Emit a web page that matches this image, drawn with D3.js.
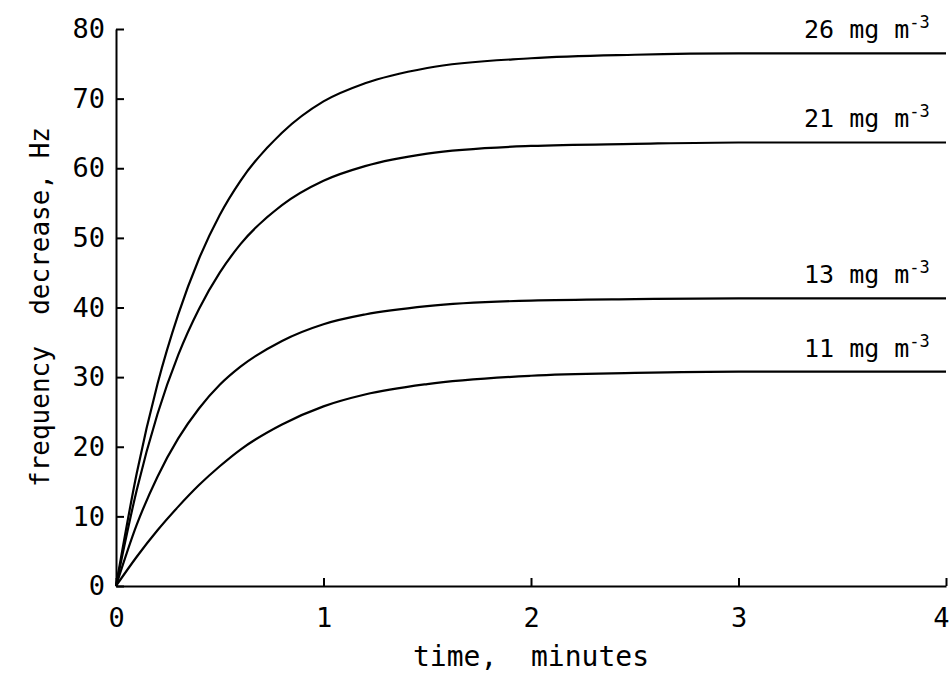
<!DOCTYPE html>
<html>
<head>
<meta charset="utf-8">
<script src="https://cdn.jsdelivr.net/npm/d3@7"></script>
<style>
  html, body { margin: 0; padding: 0; background: #fff; }
  svg { display: block; }
  text { font-family: "DejaVu Sans Mono", monospace; fill: #000; }
</style>
</head>
<body>
<svg id="chart" width="950" height="677"></svg>
<script>
// time, minutes
const times = [0, 0.1, 0.2, 0.3, 0.4, 0.5, 0.6, 0.8, 1.0, 1.2, 1.5, 2.0, 2.5, 3.0, 3.5, 4.0];
// frequency decrease, Hz
const conc26 = [0, 16.2, 29.0, 39.0, 47.0, 53.3, 58.2, 65.1, 69.6, 72.2, 74.4, 75.8, 76.3, 76.5, 76.5, 76.5];
const conc21 = [0, 13.8, 24.7, 33.2, 39.8, 45.0, 49.1, 54.7, 58.2, 60.3, 62.1, 63.2, 63.5, 63.7, 63.7, 63.7];
const conc13 = [0, 8.8, 15.7, 21.2, 25.5, 28.9, 31.5, 35.2, 37.6, 39.0, 40.2, 41.0, 41.2, 41.3, 41.3, 41.3];
const conc11 = [0, 4.2, 8.0, 11.4, 14.5, 17.2, 19.6, 23.2, 25.8, 27.5, 29.0, 30.2, 30.6, 30.8, 30.8, 30.8];
const seriesNames = ["26", "21", "13", "11"];
const seriesValues = [conc26, conc21, conc13, conc11];
const xTicks = [0, 1, 2, 3, 4];
const yTicks = [0, 10, 20, 30, 40, 50, 60, 70, 80];
const xTitle = "time,\u00a0\u00a0minutes";
const yTitle = "frequency\u00a0\u00a0decrease,\u00a0Hz";

const svg = d3.select("#chart");
const x = d3.scaleLinear().domain([0, 4]).range([116, 946]);
const y = d3.scaleLinear().domain([0, 80]).range([586, 29]);

// axes
const gx = svg.append("g").attr("transform", `translate(0,${y(0)})`)
  .call(d3.axisBottom(x).tickValues(xTicks).tickFormat(d3.format("d")).tickSize(-8).tickSizeOuter(0).tickPadding(22));
const gy = svg.append("g").attr("transform", `translate(${x(0)},0)`)
  .call(d3.axisLeft(y).tickValues(yTicks).tickFormat(d3.format("d")).tickSize(-8).tickSizeOuter(0).tickPadding(11));
[gx, gy].forEach(g => {
  g.selectAll("path.domain").attr("stroke", "#000").attr("stroke-width", 2);
  g.selectAll(".tick line").attr("stroke", "#000").attr("stroke-width", 2);
  g.selectAll(".tick text").attr("font-size", 27).attr("font-family", "DejaVu Sans Mono").attr("fill", "#000");
});
// keep the last x label inside the picture
gx.selectAll(".tick text").filter(d => d === 4).attr("text-anchor", "end").attr("dx", 3);

// curves
const line = d3.line()
  .x((d, i) => x(times[i]))
  .y(d => y(d))
  .curve(d3.curveMonotoneX);

svg.append("g").selectAll("path.curve")
  .data(seriesValues)
  .join("path")
  .attr("class", "curve")
  .attr("d", d => line(d))
  .attr("fill", "none")
  .attr("stroke", "#000")
  .attr("stroke-width", 2.2);

// series labels
const lab = svg.append("g").selectAll("text.lab")
  .data(seriesValues)
  .join("text")
  .attr("class", "lab")
  .attr("x", 804)
  .attr("y", d => y(d[d.length - 1]) - 15)
  .attr("font-size", 25);
lab.append("tspan").text((d, i) => seriesNames[i] + " mg m");
lab.append("tspan").attr("dy", -10).attr("font-size", 17).text("-3");

// axis titles
svg.append("text")
  .attr("x", x(2))
  .attr("y", 666)
  .attr("text-anchor", "middle")
  .attr("font-size", 28)
  .text(xTitle);

svg.append("text")
  .attr("transform", `translate(49,${307}) rotate(-90)`)
  .attr("text-anchor", "middle")
  .attr("font-size", 26)
  .text(yTitle);
</script>
</body>
</html>
